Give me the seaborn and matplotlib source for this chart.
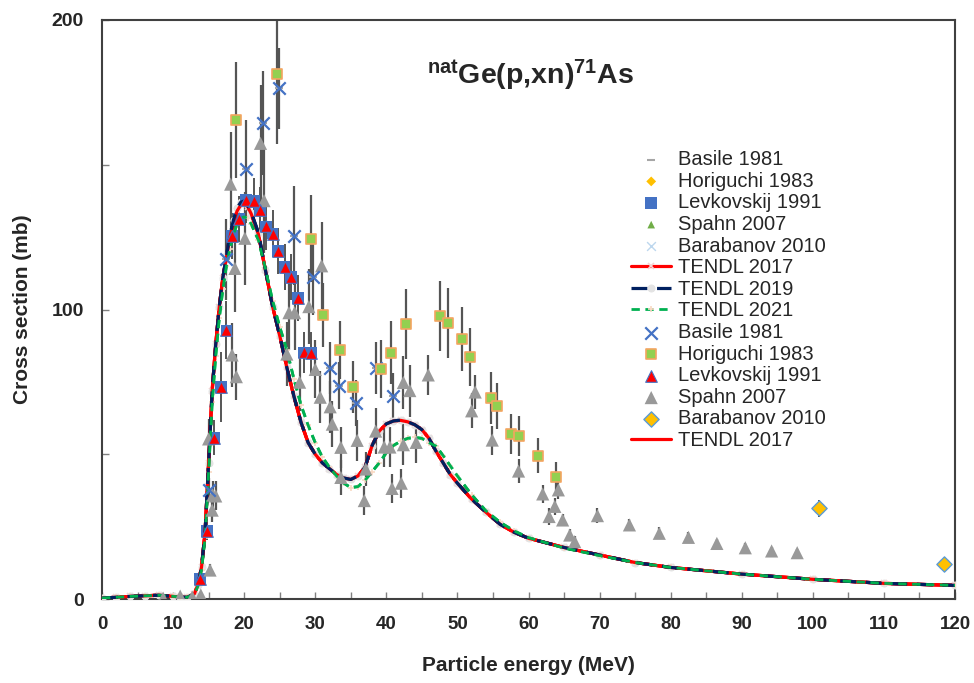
import matplotlib
matplotlib.use("Agg")
import matplotlib.pyplot as plt
import seaborn as sns
import numpy as np

# ---------------- data ----------------
basile_E = [15.0, 17.5, 20.2, 22.6, 24.9, 27.0, 29.7, 32.1, 33.3, 35.7, 38.5, 41.0]
basile_S = [37.7, 117.3, 148.5, 164.3, 176.4, 125.5, 111.1, 79.9, 73.7, 67.6, 79.9, 70.1]
basile_err = [4, 14, 17, 18, 14, 17, 13, 9, 8, 8, 9, 8]

hori_E = [18.9, 24.6, 29.4, 31.1, 33.5, 35.3, 39.2, 40.6, 42.8, 47.5, 48.7, 50.6, 51.8,
          54.7, 55.6, 57.6, 58.6, 61.4, 63.9]
hori_S = [165.5, 181.3, 124.5, 98.2, 85.9, 73.1, 79.3, 85.1, 95.0, 97.8, 95.4, 89.7, 83.7,
          69.3, 66.7, 57.0, 56.3, 49.5, 42.3]
hori_err = [20, 24, 15, 11, 10, 9, 10, 11, 12, 12, 12, 11, 10, 9, 8, 7, 7, 6, 5]

levk_E = [13.8, 14.8, 15.8, 16.7, 17.5, 18.3, 19.3, 20.3, 21.4, 22.2, 23.1, 24.0, 24.8,
          25.7, 26.6, 27.6, 28.4, 29.4]
levk_S = [7.0, 23.5, 55.7, 73.3, 92.8, 125.3, 131.2, 137.8, 137.5, 134.3, 128.7, 126.2,
          120.3, 114.6, 111.2, 104.0, 85.2, 85.1]
levk_err = [1, 3, 6, 12, 10, 8, 8, 8, 8, 8, 8, 8, 8, 8, 8, 8, 7, 7]

spahn_E = [8.6, 11.0, 12.7, 13.9, 15.0, 15.2, 15.5, 15.6, 16.0, 18.1, 18.3, 18.7, 18.9,
           20.1, 22.3, 22.8, 26.0, 26.3, 27.1, 27.8, 29.1, 30.0, 30.7, 30.9, 32.1, 32.4,
           33.6, 33.6, 35.9, 36.9, 37.1, 38.5, 39.7, 40.5, 40.8, 42.1, 42.4, 42.4, 43.3,
           44.2, 45.9, 52.0, 52.5, 54.9, 58.6, 62.0, 62.9, 63.7, 64.2, 64.8, 65.8, 66.5,
           69.7, 74.2, 78.4, 82.5, 86.5, 90.5, 94.2, 97.8]
spahn_S = [0.3, 1.0, 0.7, 1.4, 55.3, 10.0, 30.7, 35.9, 35.6, 143.3, 84.3, 114.2, 76.8,
           124.6, 157.4, 137.6, 84.6, 98.9, 98.9, 74.9, 101.0, 79.3, 69.7, 115.1, 66.4, 60.4,
           52.4, 42.0, 54.8, 34.0, 44.9, 58.0, 52.5, 52.5, 38.2, 40.0, 74.8, 53.3, 72.0,
           54.1, 77.4, 65.0, 71.5, 54.9, 44.2, 36.3, 28.5, 32.0, 37.7, 27.3, 22.1, 19.8,
           28.8, 25.6, 22.7, 21.3, 19.2, 17.7, 16.6, 16.0]
spahn_err = [0.1, 0.2, 0.2, 0.3, 7, 2, 4, 5, 5, 18, 11, 15, 8,
             16, 20, 18, 11, 13, 13, 10, 13, 10, 9, 15, 9, 8,
             7, 6, 7, 5, 6, 8, 7, 7, 5, 5, 9, 7, 9,
             7, 7, 6, 6, 5, 4, 3, 3, 3, 3, 2, 2, 2,
             2.5, 2, 2, 1.8, 1.6, 1.5, 1.4, 1.4]

bara_E = [100.9, 118.4]
bara_S = [31.3, 12.1]
bara_err = [3.0, 1.0]

tendl_E = [0, 2, 4, 6, 8, 10, 11, 12, 13, 13.5, 14, 14.5, 15, 15.5, 16, 16.5, 17, 17.5,
           18, 18.5, 19, 19.5, 20, 20.5, 21, 22, 23, 24, 25, 26, 27, 28, 29, 30, 31, 32,
           33, 34, 35, 36, 37, 38, 39, 40, 41, 42, 43, 44, 45, 46, 47, 48, 49, 50, 52, 54,
           56, 58, 60, 65, 70, 75, 80, 90, 100, 110, 120]
tendl2017_S = [0.3, 0.6, 0.9, 1.1, 1.3, 0.9, 0.7, 0.6, 1.8, 5, 11, 23, 47, 72, 88, 101,
               111, 118, 125, 130, 134, 136, 136.5, 135.5, 133, 126, 113.5, 101, 91, 80, 70,
               61, 54, 50, 47, 45, 43, 41.8, 41.3, 42.5, 45.5, 53, 58, 60.5, 61.5, 61.7,
               61.2, 60.2, 58.5, 55.5, 51, 47, 43, 40, 34.5, 30, 25.8, 23, 21, 17.8, 15.2,
               12.6, 10.9, 8.6, 6.8, 5.4, 4.7]
tendl2019_S = [0.3, 0.6, 0.9, 1.1, 1.3, 0.9, 0.7, 0.6, 1.8, 5, 11, 23, 47, 72, 88, 101,
               111, 118.5, 125.5, 131, 135, 137, 137.5, 136, 133.5, 126.5, 113.5, 101, 91,
               80, 70, 61, 54, 50, 47, 45, 43, 41.8, 41.3, 42.5, 45.5, 53, 58, 60.5, 61.5,
               61.8, 61.2, 60.2, 58.5, 55.5, 51, 47, 43, 40, 34.5, 30, 25.8, 23, 21, 17.8,
               15.2, 12.6, 10.9, 8.6, 6.8, 5.4, 4.7]
tendl2021_S = [0.3, 0.6, 0.9, 1.1, 1.3, 0.9, 0.7, 0.6, 1.6, 4.5, 10, 21, 44, 68, 84, 97,
               107, 115, 121, 126, 129.5, 131.5, 132, 131.5, 129.5, 124, 114, 103, 94, 86,
               76, 67, 60, 54, 49, 45.5, 42.5, 40, 38.5, 38.8, 41, 44, 47, 50.5, 53, 54.5,
               55.5, 55.8, 55.5, 54, 52.8, 49.5, 46, 42.5, 36, 30.5, 26.5, 23.5, 21.2, 17.6,
               15, 12.6, 10.9, 8.6, 6.8, 5.4, 4.7]

x_ticks = [0, 10, 20, 30, 40, 50, 60, 70, 80, 90, 100, 110, 120]
y_ticks = [0, 100, 200]

# ---------------- style ----------------
sns.set_style("white")
plt.rcParams["font.family"] = ["Liberation Sans", "DejaVu Sans"]
plt.rcParams["mathtext.fontset"] = "custom"
plt.rcParams["mathtext.rm"] = "Liberation Sans"
plt.rcParams["mathtext.bf"] = "Liberation Sans:bold"

fig = plt.figure(figsize=(9.74, 6.83), dpi=100)
ax = fig.add_axes([102 / 974, 1 - 599 / 683, (955 - 102) / 974, (599 - 20) / 683])

ERR_C = "#555555"
ax.errorbar(spahn_E, spahn_S, yerr=spahn_err, fmt="none", ecolor=ERR_C, elinewidth=1.6, zorder=2)
ax.errorbar(hori_E, hori_S, yerr=hori_err, fmt="none", ecolor=ERR_C, elinewidth=1.6, zorder=2)
ax.errorbar(basile_E, basile_S, yerr=basile_err, fmt="none", ecolor=ERR_C, elinewidth=1.6, zorder=2)
ax.errorbar(levk_E, levk_S, yerr=levk_err, fmt="none", ecolor=ERR_C, elinewidth=1.4, zorder=2)
ax.errorbar(bara_E, bara_S, yerr=bara_err, fmt="none", ecolor=ERR_C, elinewidth=1.4, zorder=2)

handles, labels = [], []

def scat(E, S, label, z, **kw):
    sns.scatterplot(x=E, y=S, ax=ax, zorder=z, legend=False, **kw)
    h = ax.collections[-1]
    handles.append(h)
    labels.append(label)

def line(E, S, label, z, plain=None, **kw):
    sns.lineplot(x=E, y=S, ax=ax, zorder=z, legend=False, **kw)
    h = ax.lines[-1]
    handles.append(h)
    labels.append(label)
    if plain is not None:
        sns.lineplot(x=E, y=S, ax=ax, zorder=z + 1, legend=False, **plain)

# first group (underlying markers)
scat(basile_E, basile_S, "Basile 1981", 3, marker="_", s=40, color="#a6a6a6", linewidth=1.5)
scat(hori_E, hori_S, "Horiguchi 1983", 3, marker="D", s=25, color="#ffc000", edgecolor="none")
scat(levk_E, levk_S, "Levkovskij 1991", 3, marker="s", s=70, color="#4472c4", edgecolor="none")
scat(spahn_E, spahn_S, "Spahn 2007", 3, marker="^", s=30, color="#70ad47", edgecolor="none")
scat(bara_E, bara_S, "Barabanov 2010", 3, marker="x", s=40, color="#bdd7ee", linewidth=1)

line(tendl_E, tendl2017_S, "TENDL 2017", 2.5,
     plain=dict(color="#ff0000", linewidth=2.3),
     color="#ff0000", linewidth=2.3,
     marker="x", markersize=5, markeredgecolor="#f4d4d4", markerfacecolor="#f4d4d4", mew=1.2)
line(tendl_E, tendl2019_S, "TENDL 2019", 2.6,
     plain=dict(color="#002060", linewidth=2.3, linestyle=(0, (5, 3))),
     color="#002060", linewidth=2.3, linestyle=(0, (5, 3)),
     marker="o", markersize=5, markeredgecolor="#e3e3e3", markerfacecolor="#e3e3e3")
line(tendl_E, tendl2021_S, "TENDL 2021", 2.7,
     plain=dict(color="#00b050", linewidth=2.0, linestyle=(0, (3, 2))),
     color="#00b050", linewidth=2.0, linestyle=(0, (3, 2)),
     marker="+", markersize=5, markeredgecolor="#f8d9c4", mew=1.2)

# second group
scat(basile_E, basile_S, "Basile 1981", 5, marker="x", s=80, color="#4472c4", linewidth=1.6)
scat(hori_E, hori_S, "Horiguchi 1983", 5, marker="s", s=60, color="#92d050", edgecolor="#f4a460", linewidth=1.2)
scat(levk_E, levk_S, "Levkovskij 1991", 5, marker="^", s=70, color="#ff0000", edgecolor="#4472c4", linewidth=0.8)
scat(spahn_E, spahn_S, "Spahn 2007", 4.5, marker="^", s=90, color="#999999", edgecolor="none")
scat(bara_E, bara_S, "Barabanov 2010", 5, marker="D", s=60, color="#ffc000", edgecolor="#5b9bd5", linewidth=1)
line(tendl_E, tendl2017_S, "TENDL 2017", 2.4, color="#ff0000", linewidth=2.3)

# ---------------- axes ----------------
ax.set_xlim(0, 120)
ax.set_ylim(0, 200)
ax.set_xticks(x_ticks)
ax.set_xticks(np.arange(5, 120, 10), minor=True)
ax.set_xticklabels([str(t) for t in x_ticks], fontsize=13.5, fontweight="bold")
ax.set_yticks([0, 50, 100, 150, 200])
ax.set_yticklabels(["0", "", "100", "", "200"], fontsize=14, fontweight="bold")
ax.tick_params(axis="both", which="both", direction="in", length=5, width=1, color="#808080",
               bottom=True, left=True)
ax.tick_params(axis="x", pad=12)
ax.tick_params(axis="y", pad=13)
for s in ax.spines.values():
    s.set_color("#404040")
    s.set_linewidth(1.5)

ax.set_xlabel("Particle energy (MeV)", fontsize=15, fontweight="bold", labelpad=17)
ax.set_ylabel("Cross section (mb)", fontsize=15, fontweight="bold", labelpad=14)

ax.text(0.502, 0.905, r"$\mathbf{^{nat}Ge(p{,}xn)^{71}As}$", transform=ax.transAxes,
        ha="center", va="center", fontsize=20.5)

ax.legend(handles, labels, loc="upper left", bbox_to_anchor=(621 / 974, 1 - 140 / 683),
          bbox_transform=fig.transFigure, frameon=False, fontsize=14.5, borderpad=0,
          labelspacing=0.13, handlelength=2.0, handletextpad=0.35)

fig.savefig("out.png", dpi=100)
